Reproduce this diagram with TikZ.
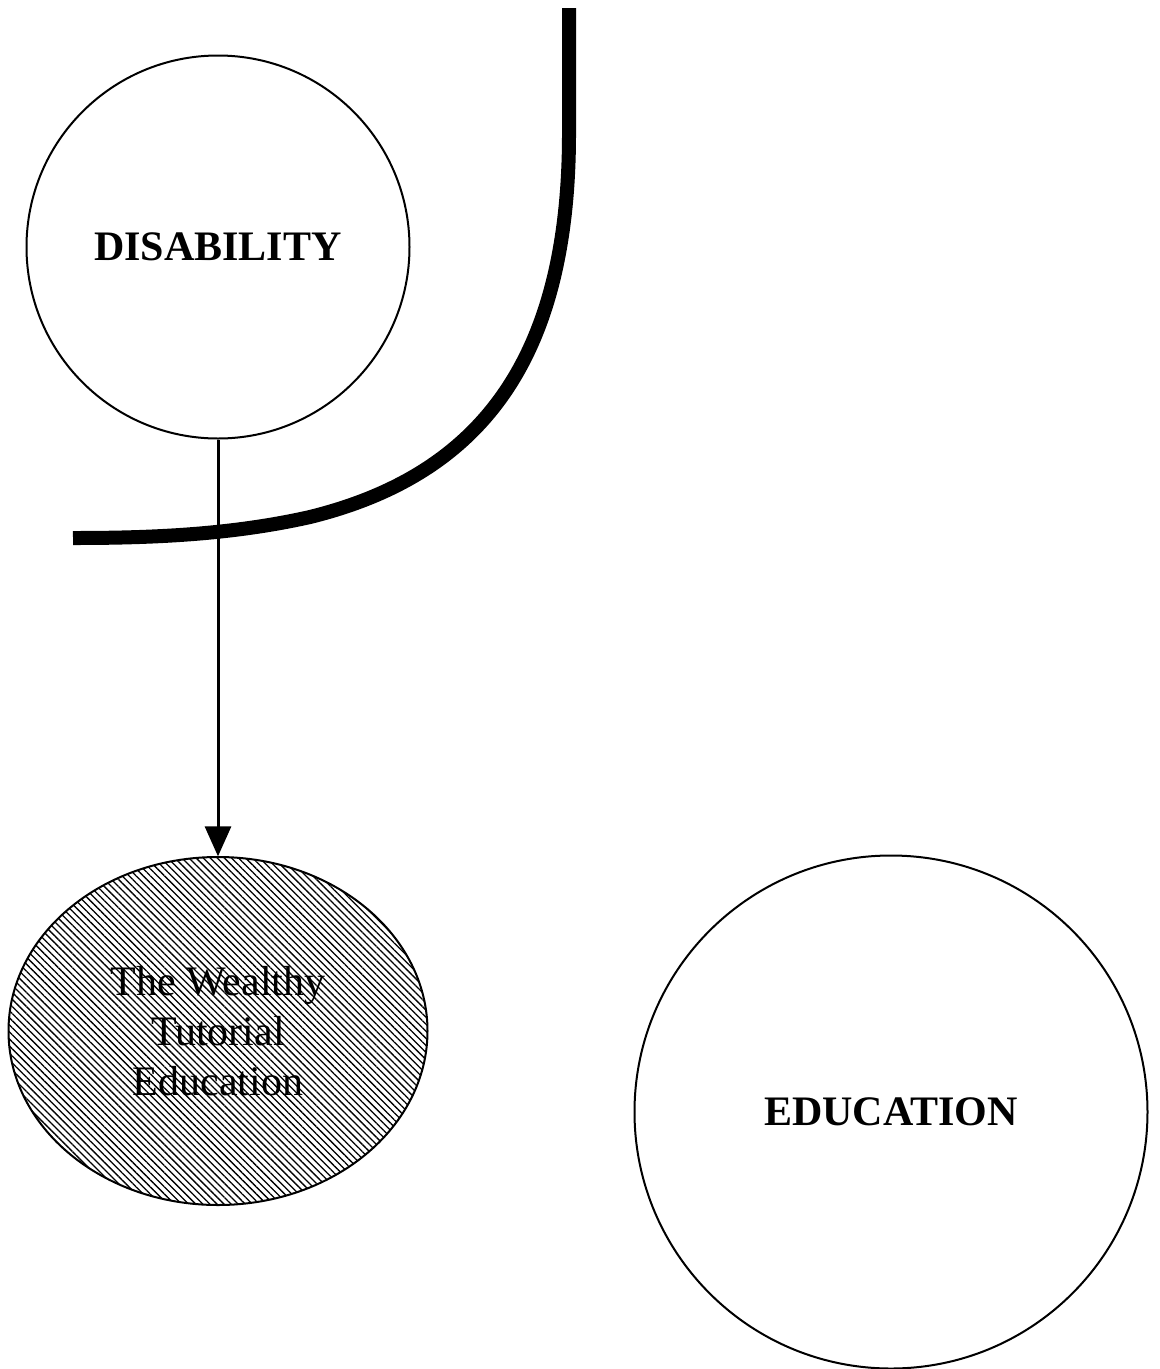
\documentclass[tikz,border=0pt]{standalone}
\usepackage{fontspec}
\setmainfont{Liberation Serif}
\usepackage{tikz}
\usetikzlibrary{arrows.meta,shapes.geometric,patterns.meta}

\begin{document}
\begin{tikzpicture}[line cap=butt,line join=round,x=1pt,y=-1pt,
  bigcircle/.style={draw,circle,line width=2pt,inner sep=0pt,font=\fontsize{42}{50}\selectfont\bfseries},
  hatched/.style={draw,ellipse,line width=2pt,inner sep=0pt,align=center,font=\fontsize{42}{50}\selectfont,
    pattern={Lines[angle=-45,distance=5pt,line width=1.3pt]}}]
\useasboundingbox (0,0) rectangle (1160,1369);
% nodes
\node[bigcircle,minimum size=383pt] (dis) at (218,247) {DISABILITY};
\node[hatched,minimum width=419pt,minimum height=348pt] (wealthy) at (218,1031) {The Wealthy\\Tutorial\\Education};
\node[bigcircle,minimum size=513pt] (edu) at (891,1112) {EDUCATION};
% arrow
\draw [line width=3pt,-{Triangle[length=30pt,width=26pt]}] (dis.south) -- (wealthy.north);
% boundary line
\coordinate (top) at (569,8);
\coordinate (lft) at (73,538);
\draw [line width=14pt] (top) -- (569,130) .. controls (570,360) and (480,475) .. (310,517)
  .. controls (230,535) and (150,538) .. (lft);
\end{tikzpicture}
\end{document}
